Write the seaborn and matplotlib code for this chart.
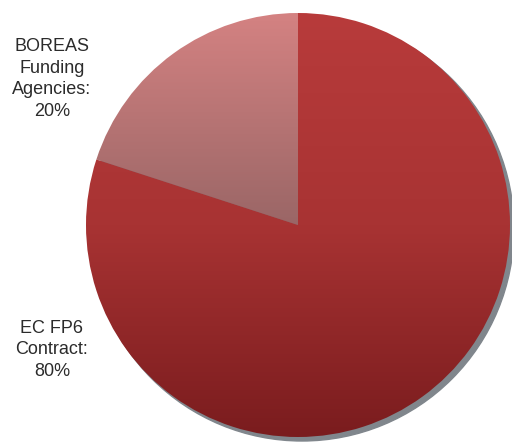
import numpy as np
import matplotlib
matplotlib.use("Agg")
import matplotlib.pyplot as plt
import seaborn as sns
from matplotlib.colors import LinearSegmentedColormap
from matplotlib.patches import Circle

# slice data (counter-clockwise from 12 o'clock)
labels = ["BOREAS\nFunding\nAgencies:\n20%", "EC FP6\nContract:\n80%"]
shares = [20, 80]
top_colors = ["#d48282", "#b83b3b"]
mid_colors = ["#9a6666", "#a83333"]
bottom_colors = ["#7e4a4a", "#7a1c1e"]

sns.set_theme(style="white")
plt.rcParams["font.family"] = ["Liberation Sans", "DejaVu Sans"]

fig = plt.figure(figsize=(5.12, 4.43), dpi=100)
ax = fig.add_axes([0, 0, 1, 1])

cx, cy, r = 298, 443 - 225, 212

# drop shadow behind the pie
ax.add_patch(Circle((cx + 4, cy - 4), r, color="#80868c", zorder=0))

wedges, _ = ax.pie(
    shares,
    startangle=90,
    counterclock=True,
    radius=r,
    center=(cx, cy),
    frame=True,
    wedgeprops=dict(linewidth=0),
)
ax.set_xlim(0, 512)
ax.set_ylim(0, 443)
ax.set_aspect("equal")
ax.axis("off")

# vertical gradient fill, clipped to each wedge
grad = np.linspace(0, 1, 256).reshape(-1, 1)
for w, c0, c1, c2 in zip(wedges, top_colors, mid_colors, bottom_colors):
    w.set_facecolor("none")
    cmap = LinearSegmentedColormap.from_list("g", [c0, c1, c2])
    im = ax.imshow(grad, cmap=cmap, extent=(cx - r, cx + r, cy - r, cy + r),
                   origin="upper", aspect="auto", zorder=1)
    im.set_clip_path(w)

text_kw = dict(ha="center", va="center", fontsize=13, color="#2b2b2b",
               linespacing=1.35)
ax.text(52, 443 - 79, labels[0], **text_kw)
ax.text(52, 443 - 350, labels[1], **text_kw)

fig.savefig("out.png", dpi=100)
